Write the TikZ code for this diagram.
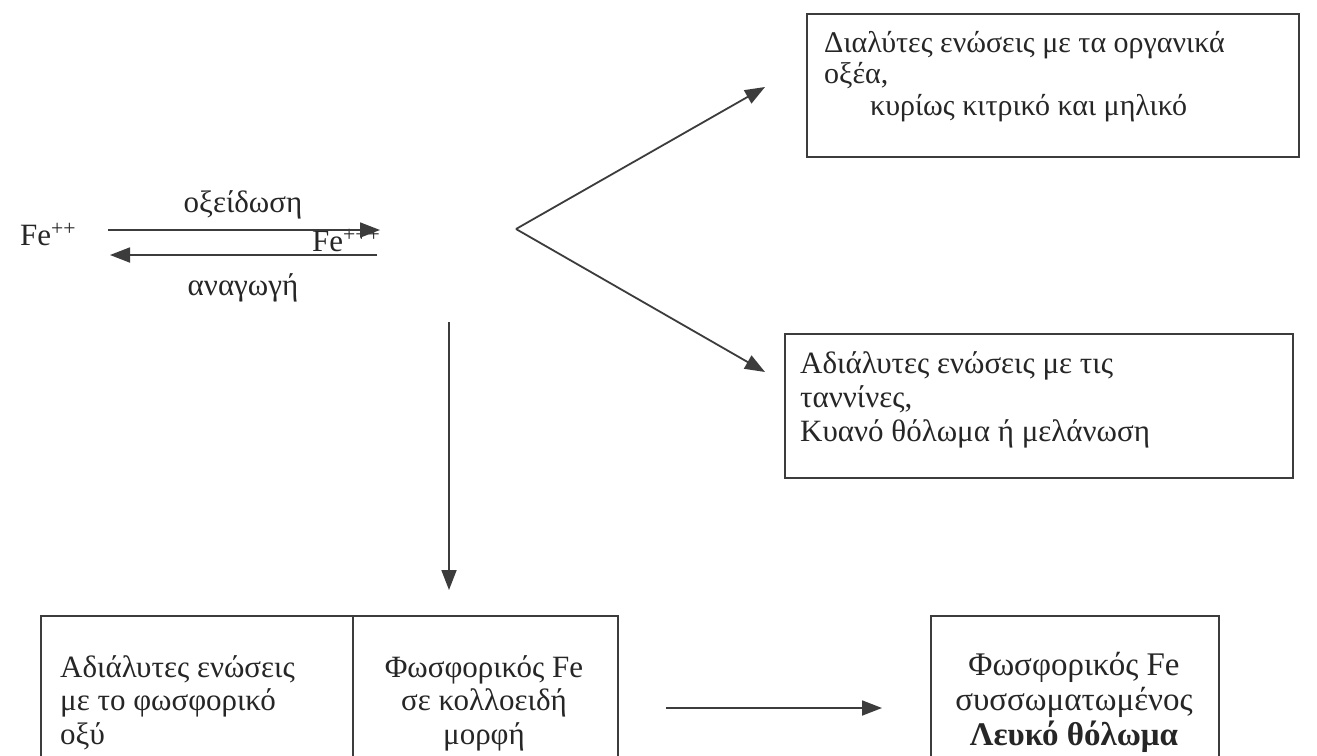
\documentclass[tikz,border=0pt]{standalone}
\usepackage{fontspec}
\setmainfont{Liberation Serif}
\usetikzlibrary{arrows.meta}
\definecolor{ink}{HTML}{262626}
\definecolor{lineink}{HTML}{3C3C3C}
\begin{document}
\begin{tikzpicture}[x=1pt,y=-1pt,
  lbl/.style={font=\fontsize{31}{35}\selectfont, text=ink, inner sep=0pt},
  txt/.style={font=\fontsize{30}{31.5}\selectfont, text=ink, inner sep=0pt},
  txtm/.style={font=\fontsize{31}{34}\selectfont, text=ink, inner sep=0pt},
  txtb/.style={font=\fontsize{31}{33.5}\selectfont, text=ink, inner sep=0pt},
  txtc/.style={font=\fontsize{33}{35}\selectfont, text=ink, inner sep=0pt},
  boxstyle/.style={draw=lineink, line width=1.8pt, inner sep=0pt, anchor=north west},
  arr/.style={draw=lineink, line width=1.8pt, -{Triangle[length=20pt,width=15pt]}}]
\useasboundingbox[fill=white] (0,0) rectangle (1317,755);

% left: Fe++ and the two reaction arrows
\node[lbl, anchor=base west] (fe2) at (20,245) {Fe\textsuperscript{++}};
\node[lbl, anchor=base west] (fe3) at (312,251) {Fe\textsuperscript{+++}};
\coordinate (oxs) at (108,230);
\coordinate (oxe) at (380,230);
\coordinate (res) at (377,255);
\coordinate (ree) at (110,255);
\draw[arr] (oxs) -- (oxe);
\draw[arr] (res) -- (ree);
\node[lbl, anchor=base] (oxl) at (243,212) {οξείδωση};
\node[lbl, anchor=base] (redl) at (243,295) {αναγωγή};

% fan
\coordinate (v) at (516,229);
\coordinate (tipA) at (765,87);
\coordinate (tipB) at (765,372);
\draw[arr] (v) -- (tipA);
\draw[arr] (v) -- (tipB);

% top right box
\node[boxstyle, minimum width=492pt, minimum height=143pt] (topbox) at (806,13) {};
\node[txt, anchor=base west] (toptext) at (824,52) {\begin{tabular}[t]{@{}l@{}}Διαλύτες ενώσεις με τα οργανικά\\οξέα,\\\hspace*{46pt}κυρίως κιτρικό και μηλικό\end{tabular}};

% middle right box
\node[boxstyle, minimum width=508pt, minimum height=144pt] (midbox) at (784,333) {};
\node[txtm, anchor=base west] (midtext) at (800,373) {\begin{tabular}[t]{@{}l@{}}Αδιάλυτες ενώσεις με τις\\ταννίνες,\\Κυανό θόλωμα ή μελάνωση\end{tabular}};

% vertical arrow
\coordinate (vs) at (449,322);
\coordinate (ve) at (449,590);
\draw[arr] (vs) -- (ve);

% bottom left boxes
\node[boxstyle, minimum width=312pt, minimum height=170pt] (cellA) at (40,615) {};
\node[boxstyle, minimum width=265pt, minimum height=170pt] (cellB) at (352,615) {};
\node[txtb, anchor=base west] (cellAtext) at (60,677) {\begin{tabular}[t]{@{}l@{}}Αδιάλυτες ενώσεις\\με το φωσφορικό\\οξύ\end{tabular}};
\node[txtb, anchor=base] (cellBtext) at (484,677) {\begin{tabular}[t]{@{}c@{}}Φωσφορικός Fe\\σε κολλοειδή\\μορφή\end{tabular}};

% horizontal arrow
\coordinate (hs) at (666,708);
\coordinate (he) at (882,708);
\draw[arr] (hs) -- (he);

% bottom right box
\node[boxstyle, minimum width=288pt, minimum height=170pt] (rbox) at (930,615) {};
\node[txtc, anchor=base] (rboxtext) at (1074,675) {\begin{tabular}[t]{@{}c@{}}Φωσφορικός Fe\\συσσωματωμένος\\\textbf{Λευκό θόλωμα}\end{tabular}};
\end{tikzpicture}
\end{document}
